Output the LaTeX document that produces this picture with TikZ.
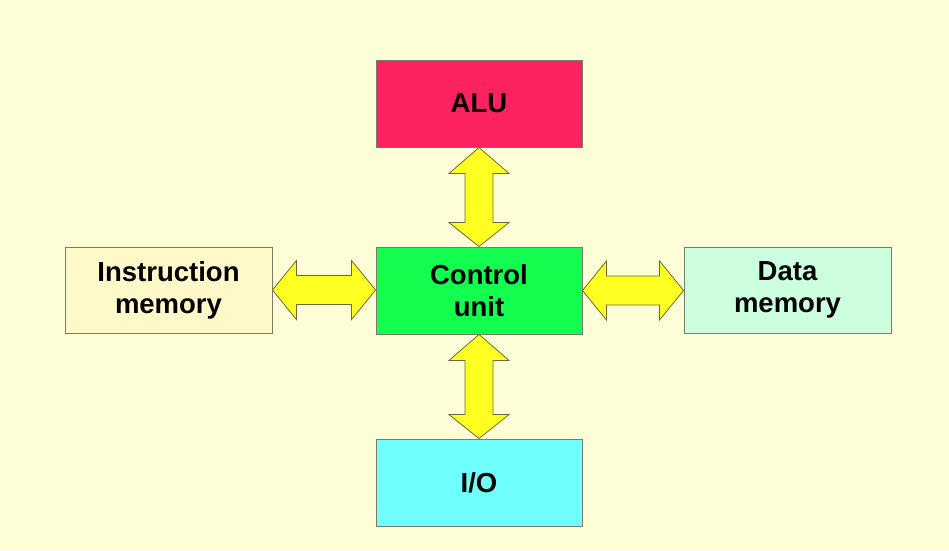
\documentclass[tikz,border=0pt]{standalone}
\usepackage{fontspec}
\setmainfont{Liberation Sans}
\usetikzlibrary{calc}
\definecolor{bgc}{HTML}{FFFFD7}
\definecolor{aluc}{HTML}{FF2260}
\definecolor{ctlc}{HTML}{12FF50}
\definecolor{ioc}{HTML}{70FFFF}
\definecolor{imc}{HTML}{FFF8C8}
\definecolor{dmc}{HTML}{CCFFDD}
\definecolor{arrc}{HTML}{FFFF22}
\definecolor{arrb}{HTML}{6A6A3A}
\definecolor{boxb}{HTML}{7A7A6A}
\tikzset{
  blk/.style={draw=boxb, line width=0.9pt, minimum width=206pt, minimum height=87pt,
    inner sep=0pt, align=center, font=\fontsize{27.5}{32}\selectfont\bfseries},
  arr/.style={draw=arrb, fill=arrc, line width=0.8pt, line join=miter},
}
\newcommand{\harrow}[2]{%
  \draw[arr] let \p1=(#1.east), \p2=(#2.west) in
    (\x1,\y1) -- (\x1+24pt,\y1+29.5pt) -- (\x1+24pt,\y1+14.5pt) -- (\x2-24pt,\y1+14.5pt)
    -- (\x2-24pt,\y1+29.5pt) -- (\x2,\y1) -- (\x2-24pt,\y1-29.5pt) -- (\x2-24pt,\y1-14.5pt)
    -- (\x1+24pt,\y1-14.5pt) -- (\x1+24pt,\y1-29.5pt) -- cycle;}
\newcommand{\varrow}[2]{%
  \draw[arr] let \p1=(#1.south), \p2=(#2.north) in
    (\x1,\y1) -- (\x1+30pt,\y1-26pt) -- (\x1+14pt,\y1-26pt) -- (\x1+14pt,\y2+24pt)
    -- (\x1+30pt,\y2+24pt) -- (\x1,\y2) -- (\x1-30pt,\y2+24pt) -- (\x1-14pt,\y2+24pt)
    -- (\x1-14pt,\y1-26pt) -- (\x1-30pt,\y1-26pt) -- cycle;}
\begin{document}
\begin{tikzpicture}[x=1pt,y=-1pt]
\fill[bgc] (0,0) rectangle (949,550);
\useasboundingbox (0,0) rectangle (949,550);
\node[blk, fill=aluc] (alu) at (479,103.5) {ALU};
\node[blk, fill=ctlc] (cu) at (479,290.5) {Control\\unit};
\node[blk, fill=ioc] (io) at (479,482.5) {I/O};
\node[blk, fill=imc, minimum width=207pt, minimum height=86pt] (im) at (168.5,290) {Instruction\\memory};
\node[blk, fill=dmc, minimum width=207pt, minimum height=86pt] (dm) at (787.5,290) {Data\\memory};
\harrow{im}{cu}
\harrow{cu}{dm}
\varrow{alu}{cu}
\varrow{cu}{io}
\end{tikzpicture}
\end{document}
